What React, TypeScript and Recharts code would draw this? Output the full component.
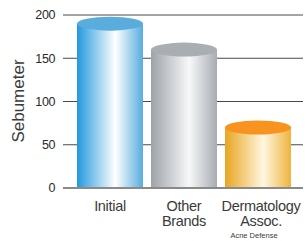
import { BarChart, Bar, XAxis, YAxis, CartesianGrid, ReferenceLine } from 'recharts';

const categories = ['Initial', 'Other Brands', 'Dermatology Assoc.'];
const sebumeter = [190, 160, 70];
const tickLines = [['Initial'], ['Other', 'Brands'], ['Dermatology', 'Assoc.']];
const subLabels = ['', '', 'Acne Defense'];
const yTicks = [0, 50, 100, 150, 200];

const BODY = ['#2398dd', '#9ea3a9', '#e8a521'];
const MID = ['#ffffff', '#f7f8f9', '#fff7e0'];
const EDGE = ['#58acdd', '#a7acb2', '#edb440'];
const TOP = ['#5aacdc', '#a9aeb3', '#f7931e'];

const FONT = '"Liberation Sans", Arial, sans-serif';

const data = categories.map((c, i) => ({ name: c, value: sebumeter[i] }));

function Cylinder(props: any) {
  const { x, y, width, height, index } = props;
  const cx = x + width / 2;
  return (
    <g>
      <rect x={x} y={y} width={width} height={height} fill={`url(#cyl${index})`} />
      <ellipse cx={cx} cy={y} rx={width / 2} ry={7} fill={TOP[index]} />
    </g>
  );
}

function XTick(props: any) {
  const { x, y, payload } = props;
  const i = payload.index;
  const lines = tickLines[i];
  return (
    <g fontFamily={FONT} fill="#3a3a3a" textAnchor="middle">
      {lines.map((l, k) => (
        <text key={k} x={x + (i === 2 ? 3 : 0)} y={y + 15 + k * 15} fontSize={14.5} letterSpacing={-0.3}>
          {l}
        </text>
      ))}
      {subLabels[i] && (
        <text x={x - 4} y={y + 42} fontSize={7.5}>
          {subLabels[i]}
        </text>
      )}
    </g>
  );
}

export default function App() {
  return (
    <div style={{ position: 'absolute', left: 0, top: 0, width: 307, height: 241, background: '#fff' }}>
      <BarChart width={307} height={241} data={data} margin={{ top: 15, right: 4, bottom: 0, left: 0 }}>
        <defs>
          {BODY.map((c, i) => (
            <linearGradient key={i} id={`cyl${i}`} x1="0" y1="0" x2="1" y2="0">
              <stop offset="0%" stopColor={c} />
              <stop offset="58%" stopColor={MID[i]} />
              <stop offset="100%" stopColor={EDGE[i]} />
            </linearGradient>
          ))}
        </defs>
        <CartesianGrid vertical={false} stroke="#4a4a4a" strokeWidth={1} />
        <XAxis
          dataKey="name"
          axisLine={false}
          tickLine={false}
          interval={0}
          height={53}
          padding={{ left: 10, right: 8 }}
          tick={<XTick />}
        />
        <YAxis
          domain={[0, 200]}
          ticks={yTicks}
          width={63}
          axisLine={false}
          tickLine={false}
          tickMargin={2}
          tick={{ fontFamily: FONT, fontSize: 12.5, fill: '#2a2a2a', letterSpacing: -0.4 }}
          label={{
            content: () => (
              <text
                x={24}
                y={101}
                transform="rotate(-90, 24, 101)"
                textAnchor="middle"
                fontFamily={FONT}
                fontSize={17}
                fill="#3a3a3a"
              >
                Sebumeter
              </text>
            ),
          }}
        />
        <ReferenceLine y={0} stroke="#8a8a8a" strokeWidth={2} />
        <Bar dataKey="value" barSize={66} isAnimationActive={false} shape={<Cylinder />} />
      </BarChart>
    </div>
  );
}
